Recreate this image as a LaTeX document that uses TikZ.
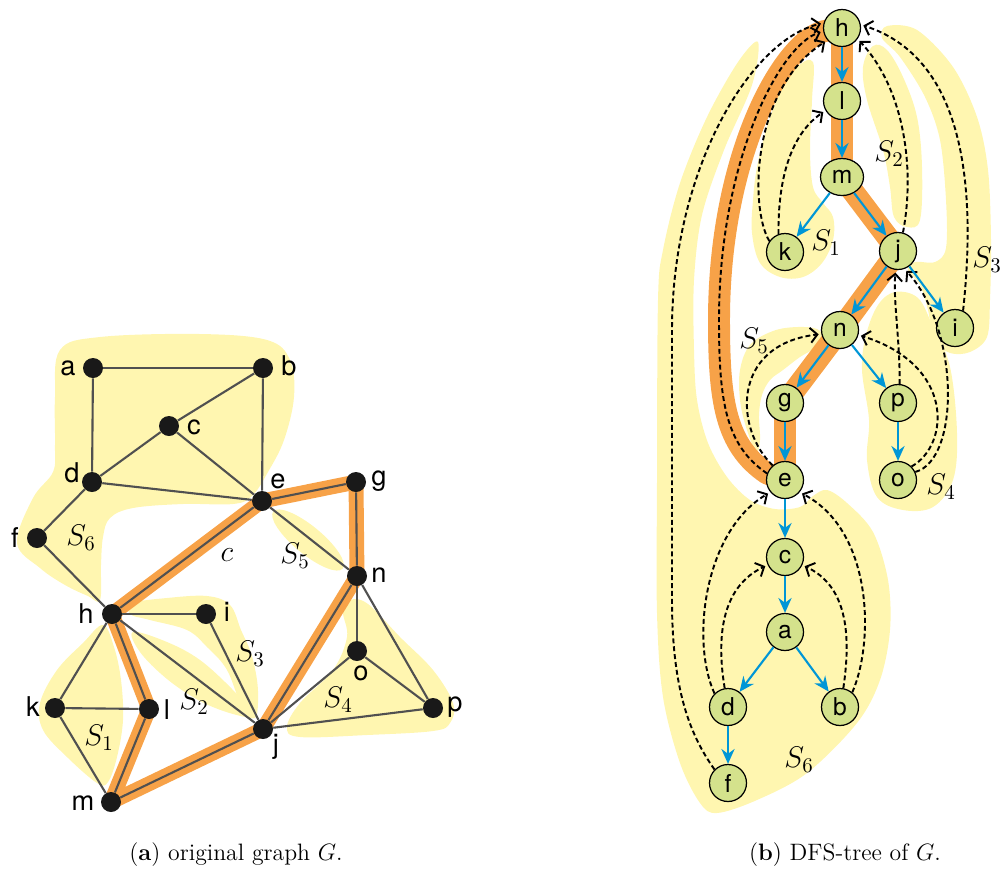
\documentclass[tikz,border=0pt]{standalone}
\usepackage{fix-cm}
\usepackage{fontspec}
\newfontfamily\lab{TeX Gyre Heros}
\usetikzlibrary{arrows.meta,shapes.geometric}
\pgfdeclarelayer{zones}
\pgfdeclarelayer{bands}
\pgfsetlayers{zones,bands,main}
\definecolor{zone}{RGB}{255,246,176}
\definecolor{cyc}{RGB}{247,162,72}
\definecolor{leaf}{RGB}{212,226,140}
\definecolor{treeblue}{RGB}{0,150,214}
\definecolor{gline}{RGB}{80,80,80}
\begin{document}
\begin{tikzpicture}[x=0.02cm,y=-0.02cm,
  dot/.style={circle,fill=black!90,minimum size=0.4cm,inner sep=0pt},
  glab/.style={inner sep=0pt,font=\lab\fontsize{15.5}{16}\selectfont},
  tnode/.style={circle,draw=black,line width=0.7pt,fill=leaf,minimum size=0.74cm,inner sep=0pt,font=\lab\fontsize{14}{14}\selectfont},
  gedge/.style={draw=gline,line width=1.2pt},
  cycband/.style={draw=cyc,line width=8.5pt,line join=round,line cap=round},
  tband/.style={draw=cyc,line width=12.5pt,line join=round,line cap=round},
  tedge/.style={draw=treeblue,line width=1.2pt,-{Stealth[length=8.5pt,width=7.5pt]}},
  back/.style={draw=black,line width=1.1pt,dash pattern=on 2.8pt off 1.7pt,shorten >=1.5pt,-{Straight Barb[length=4pt,width=8.5pt]}},
  slab/.style={inner sep=0pt,font=\fontsize{17}{20}\selectfont},
  captxt/.style={inner sep=0pt,font=\fontsize{13.5}{16}\selectfont}]
\useasboundingbox (0,0) rectangle (1000,873);

% ---------------- original graph G ----------------
\foreach \n/\x/\y in {a/93/368, b/263/368, c/169/426, d/92/482, e/262/501,
    f/37/538, g/356/482, h/112/614, i/206/614, j/263/729, k/55/708,
    l/149/709, m/111/802, n/357/576, o/357/651, p/433/708}
  \node[dot] (G\n) at (\x,\y) {};

\foreach \n/\x/\y in {a/68/368, b/289/366, c/194/427, d/72/473, e/278/481,
    f/15/538, g/379/481, h/86/614, i/227/612, j/276/747, k/33/707,
    l/167/710, m/83/803, n/379/575, o/361/673, p/455/707}
  \node[glab] (G\n-name) at (\x,\y) {\n};

\begin{pgfonlayer}{zones}
  % S6
  \fill[zone] plot[smooth cycle,tension=0.6] coordinates {(60,350) (100,337)
    (200,334) (267,340) (290,360) (294,397) (284,440) (268,472) (252,496)
    (233,504) (183,504) (133,508) (110,518) (103,537) (101,565) (100,600)
    (88,596) (65,585) (40,568) (17,543) (33,498) (53,472) (55,445) (55,397)};
  % S5
  \fill[zone,rotate around={-39.5:(308,540)}] (308,540) ellipse [x radius=0.9cm,y radius=0.28cm];
  % S1
  \fill[zone] plot[smooth cycle,tension=0.6] coordinates {(103,625) (83,643)
    (57,670) (40,703) (43,730) (67,757) (97,783) (108,782) (117,757) (123,720)
    (121,680) (114,647)};
  % S2
  \fill[zone] plot[smooth cycle,tension=0.6] coordinates {(133,632) (167,642)
    (200,660) (233,690) (255,716) (233,714) (200,701) (167,679) (140,652)};
  % S3
  \fill[zone] plot[smooth cycle,tension=0.6] coordinates {(133,603) (167,598)
    (207,596) (230,605) (241,630) (251,653) (257,680) (258,703) (255,718)
    (243,710) (227,670) (207,647) (187,630) (150,620) (130,614)};
  % S4
  \fill[zone] plot[smooth cycle,tension=0.6] coordinates {(350,600) (368,604)
    (400,637) (433,670) (453,703) (450,723) (433,731) (367,735) (300,737)
    (287,727) (300,703) (333,670) (347,637) (343,612)};
\end{pgfonlayer}

\begin{pgfonlayer}{bands}
  \draw[cycband] (Gh.center) -- (Gl.center) -- (Gm.center) -- (Gj.center)
    -- (Gn.center) -- (Gg.center) -- (Ge.center) -- cycle;
\end{pgfonlayer}

\foreach \u/\v in {a/b, a/d, b/c, b/e, c/d, c/e, d/e, d/f, f/h, h/e, e/g,
    e/n, g/n, h/i, h/k, h/l, h/j, k/l, k/m, l/m, m/j, i/j, j/n, j/o, j/p,
    n/o, n/p, o/p}
  \draw[gedge] (G\u) -- (G\v);

\node[slab] (GS6) at (81,538) {$S_6$};
\node[slab] (GS5) at (295,556) {$S_5$};
\node[slab] (GS1) at (99,738) {$S_1$};
\node[slab] (GS2) at (194,702) {$S_2$};
\node[slab] (GS3) at (250,654) {$S_3$};
\node[slab] (GS4) at (338,700) {$S_4$};
\node[slab] (Gcyc) at (227,555) {$c$};

% ---------------- DFS tree ----------------
\foreach \n/\x/\y in {h/842/28, l/842/101, k/785/252, j/898/251, n/840/330,
    i/955/328, g/785/403, p/898/403, e/785/480, o/898/480, c/785/557,
    a/785/632, d/728/707, b/840/707, f/728/783}
  \node[tnode] (T\n) at (\x,\y) {\n};
\node[tnode,ellipse,minimum width=0.86cm,minimum height=0.74cm] (Tm) at (842,177) {m};

\begin{pgfonlayer}{zones}
  % S6
  \fill[zone] plot[smooth cycle,tension=0.55] coordinates {(758,42) (752,85)
    (724,150) (702,215) (694,280) (694,350) (697,400) (708,443) (727,477)
    (750,500) (775,509) (800,507) (813,496) (827,490) (847,503) (873,532)
    (888,580) (890,630) (880,680) (857,723) (807,773) (757,800) (717,813)
    (700,803) (680,763) (663,697) (657,613) (657,480) (658,300) (663,250)
    (680,183) (707,117) (738,62)};
  % S1
  \fill[zone] plot[smooth cycle,tension=0.6] coordinates {(813,62) (797,67)
    (780,93) (767,127) (757,167) (753,200) (752,233) (760,263) (780,277)
    (803,277) (822,263) (833,240) (833,217) (823,203) (813,187) (810,150)
    (812,100)};
  % S2
  \fill[zone] plot[smooth cycle,tension=0.6] coordinates {(873,46) (863,67)
    (867,100) (883,150) (890,187) (894,217) (907,227) (920,220) (922,167)
    (917,117) (903,77) (887,50)};
  % S3
  \fill[zone] plot[smooth cycle,tension=0.55] coordinates {(887,26) (917,30)
    (953,67) (977,117) (988,170) (991,240) (990,300) (987,337) (970,352)
    (950,353) (934,340) (928,310) (920,285) (908,270) (915,262) (935,262)
    (946,248) (946,200) (940,140) (925,97) (900,57) (882,38)};
  % S4
  \fill[zone] plot[smooth cycle,tension=0.6] coordinates {(895,292) (878,305)
    (866,335) (862,370) (869,420) (867,460) (877,497) (903,510) (933,507)
    (953,480) (957,433) (950,367) (933,327) (918,298)};
  % S5
  \fill[zone] plot[smooth cycle,tension=0.6] coordinates {(817,329) (797,327)
    (773,331) (750,345) (740,370) (740,400) (746,427) (756,452) (760,440)
    (759,415) (762,395) (770,380) (783,370) (800,357) (815,348) (823,338)};
\end{pgfonlayer}

\begin{pgfonlayer}{bands}
  \draw[tband] (Th.center) -- (Tl.center) -- (Tm.center) -- (Tj.center)
    -- (Tn.center) -- (Tg.center) -- (Te.center);
  \draw[tband] (Te.center) -- (Te.160) .. controls (725,445) and (719,400) .. (719,320)
    .. controls (719,160) and (780,45) .. (Th.190) -- (Th.center);
\end{pgfonlayer}

% back edges
\draw[back] (Tf.135) .. controls (690,735) and (672,690) .. (672,600) -- (672,330)
  .. controls (672,170) and (750,40) .. (Th.165);
\draw[back] (Te.160) .. controls (725,445) and (719,400) .. (719,320)
  .. controls (719,160) and (780,45) .. (Th.190);
\draw[back] (Tk.145) .. controls (750,210) and (750,90) .. (Th.220);
\draw[back] (Tk.110) .. controls (778,180) and (790,135) .. (Tl.210);
\draw[back] (Tj.75) .. controls (915,170) and (905,90) .. (Th.325);
\draw[back] (Ti.65) .. controls (975,200) and (970,60) .. (Th.10);
\draw[back] (Tp.85) .. controls (900,340) and (893,300) .. (Tj.263);
\draw[back] (To.25) .. controls (960,460) and (960,330) .. (Tj.290);
\draw[back] (To.45) .. controls (950,445) and (955,365) .. (Tn.345);
\draw[back] (Te.130) .. controls (735,430) and (730,345) .. (Tn.192);
\draw[back] (Td.135) .. controls (690,640) and (705,530) .. (Te.220);
\draw[back] (Td.100) .. controls (715,630) and (725,585) .. (Tc.205);
\draw[back] (Tb.80) .. controls (852,630) and (845,585) .. (Tc.335);
\draw[back] (Tb.50) .. controls (875,640) and (872,530) .. (Te.320);

% tree edges
\foreach \u/\v in {h/l, l/m, m/k, m/j, j/n, j/i, n/g, n/p, p/o, g/e, e/c,
    c/a, a/d, a/b, d/f}
  \draw[tedge] (T\u) -- (T\v);

\node[slab] (TS1) at (826,243) {$S_1$};
\node[slab] (TS2) at (889,154) {$S_2$};
\node[slab] (TS3) at (987,260) {$S_3$};
\node[slab] (TS4) at (941,487) {$S_4$};
\node[slab] (TS5) at (754,341) {$S_5$};
\node[slab] (TS6) at (799,760) {$S_6$};

% captions
\node[captxt] (capa) at (236,855) {(\textbf{a}) original graph $G$.};
\node[captxt] (capb) at (845,855) {(\textbf{b}) DFS-tree of $G$.};
\end{tikzpicture}
\end{document}
